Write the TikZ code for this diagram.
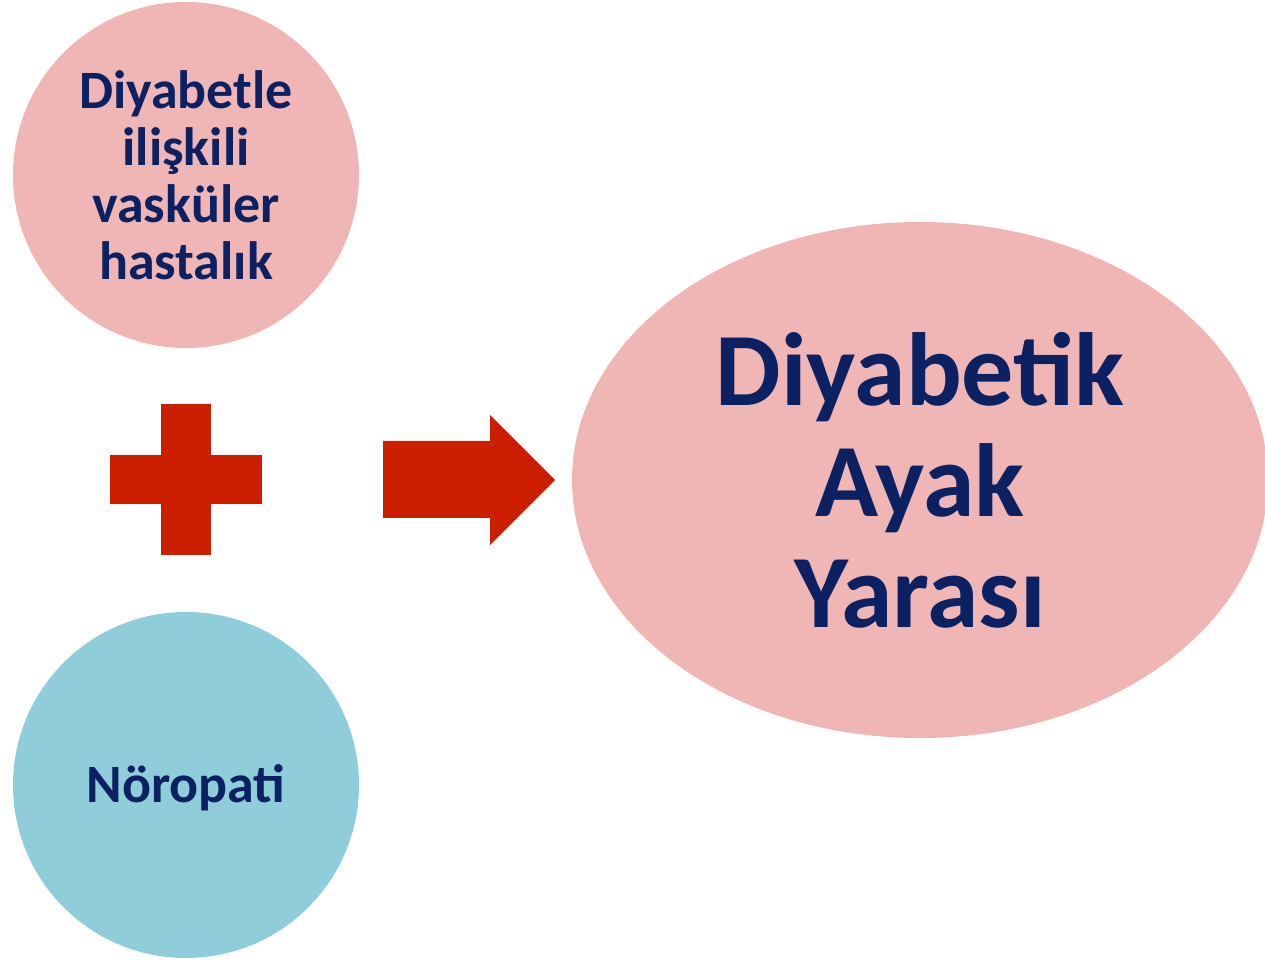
\documentclass[tikz,border=0pt]{standalone}
\usepackage{fontspec}
\setmainfont{Carlito}
\usetikzlibrary{shapes.geometric}
\definecolor{pinkfill}{HTML}{F0B6B6}
\definecolor{bluefill}{HTML}{8FCDDB}
\definecolor{navy}{HTML}{0B2162}
\definecolor{redmark}{HTML}{CC1F00}
\tikzset{
  bubble/.style={circle, fill=#1, draw=none, minimum size=346pt, inner sep=0pt,
    align=center, text=navy, font=\fontsize{54}{57}\selectfont\bfseries},
  bigbubble/.style={ellipse, fill=pinkfill, draw=none, minimum width=696pt, minimum height=516pt,
    inner sep=0pt, align=center, text=navy, font=\fontsize{104}{111}\selectfont\bfseries},
  redshape/.style={fill=redmark, draw=none}
}
\begin{document}
\begin{tikzpicture}[x=1pt,y=1pt]
\useasboundingbox (0,0) rectangle (1265,960);
\clip (0,0) rectangle (1265,960);
\node[bubble=pinkfill] (vasc) at (186,785) {Diyabetle\\ilişkili\\vasküler\\hastalık};
\node[bubble=bluefill] (neuro) at (186,175) {};
\node[text=navy, font=\fontsize{54}{57}\selectfont\bfseries] (neurotext) at (186,172) {Nöropati};
% plus sign
\path[redshape] (161,405) rectangle (211,556);
\path[redshape] (110,456) rectangle (262,505);
% arrow
\path[redshape] (383,519) -- (490,519) -- (490,545) -- (555,480) -- (490,415) -- (490,442) -- (383,442) -- cycle;
\node[bigbubble] (ulcer) at (920,480) {Diyabetik\\Ayak\\Yarası};
\end{tikzpicture}
\end{document}
